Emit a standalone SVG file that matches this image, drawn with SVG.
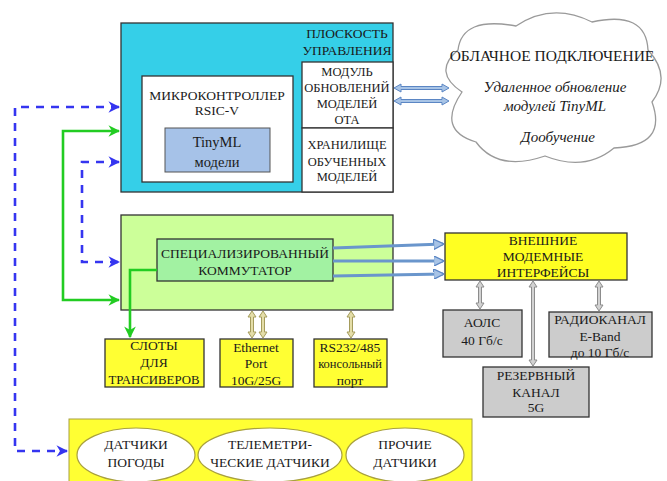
<svg xmlns="http://www.w3.org/2000/svg" width="667" height="481" viewBox="0 0 667 481" font-family="Liberation Serif, Times New Roman, DejaVu Serif, serif">
<defs>
<style>
text{font-family:'Liberation Serif','Times New Roman','DejaVu Serif',serif;font-size:13.5px;fill:#1a1a1a;text-anchor:middle}
.it{font-style:italic;font-size:15px}
.box{stroke:#333;stroke-width:1.3}
.dash{fill:none;stroke:#3535F0;stroke-width:2.6;stroke-dasharray:8 7}
.grn{fill:none;stroke:#22CC22;stroke-width:2.6}
.blu{fill:none;stroke:#6A96CC;stroke-width:3}
.gr{fill:#D2D2D2;stroke:#8C8C8C;stroke-width:1}
.kh{fill:#E4DDA8;stroke:#A59C5C;stroke-width:1}
.lb{fill:#A8C4E6;stroke:#5B86C4;stroke-width:1}
.sm{font-size:12.5px}
</style>
<marker id="ab" viewBox="0 0 10 10" refX="9" refY="5" markerWidth="4.5" markerHeight="4.5" orient="auto-start-reverse" markerUnits="strokeWidth"><path d="M0 0 L10 5 L0 10 L3 5 Z" fill="#3535F0"/></marker>
<marker id="ag" viewBox="0 0 10 10" refX="9" refY="5" markerWidth="4.5" markerHeight="4.5" orient="auto-start-reverse" markerUnits="strokeWidth"><path d="M0 0 L10 5 L0 10 L3 5 Z" fill="#22CC22"/></marker>
<marker id="al" viewBox="0 0 10 10" refX="9" refY="5" markerWidth="3.5" markerHeight="3.5" orient="auto" markerUnits="strokeWidth"><path d="M0 0 L10 5 L0 10 Z" fill="#A8C4E6" stroke="#5B86C4" stroke-width="1.2"/></marker>
</defs>

<g id="control-plane">
<rect class="box" x="121" y="23" width="272" height="169" fill="#35CFE8"/>
<text x="347" y="38">ПЛОСКОСТЬ</text>
<text x="347" y="55">УПРАВЛЕНИЯ</text>
</g>
<g id="mcu">
<rect class="box" x="142" y="76" width="151" height="106" fill="#FFFFFF"/>
<text x="217" y="100">МИКРОКОНТРОЛЛЕР</text>
<text x="217" y="115">RSIC-V</text>
</g>
<g id="tinyml">
<rect x="165" y="128" width="105" height="44" fill="#A6C2E8" stroke="#555" stroke-width="1"/>
<text x="217" y="147" style="font-size:14.5px">TinyML</text>
<text x="217" y="167" style="font-size:14.5px">модели</text>
</g>
<g id="ota">
<rect class="box" x="302" y="62" width="91" height="66" fill="#FFFFFF"/>
<text class="sm" x="347" y="76">МОДУЛЬ</text>
<text class="sm" x="347" y="92">ОБНОВЛЕНИЙ</text>
<text class="sm" x="347" y="108">МОДЕЛЕЙ</text>
<text class="sm" x="347" y="124">ОТА</text>
</g>
<g id="storage">
<rect class="box" x="302" y="128" width="91" height="64" fill="#FFFFFF"/>
<text class="sm" x="347" y="149">ХРАНИЛИЩЕ</text>
<text class="sm" x="347" y="166">ОБУЧЕННЫХ</text>
<text class="sm" x="347" y="181">МОДЕЛЕЙ</text>
</g>

<g id="cloud">
<path d="M462 92 Q432 72 458 50 Q462 16 516 26 Q552 2 592 22 Q646 10 648 50 Q672 76 652 102 Q668 146 614 148 Q585 172 545 156 Q498 172 476 142 Q436 130 462 92 Z" fill="#FFFFFF" stroke="#9A9A9A" stroke-width="1.3"/>
<text x="552" y="61" style="font-size:15.5px">ОБЛАЧНОЕ ПОДКЛЮЧЕНИЕ</text>
<text class="it" x="555" y="92">Удаленное обновление</text>
<text class="it" x="555" y="111">модулей TinyML</text>
<text class="it" x="558" y="142">Дообучение</text>
</g>

<g id="data-plane">
<rect class="box" x="121" y="215" width="272" height="95" fill="#CCFF99"/>
</g>
<g id="switch">
<rect class="box" x="157" y="239" width="176" height="42" fill="#A2F2A2"/>
<text x="245" y="258">СПЕЦИАЛИЗИРОВАННЫЙ</text>
<text x="245" y="275">КОММУТАТОР</text>
</g>
<g id="slots">
<rect class="box" x="105" y="339" width="99" height="48" fill="#FFFF33"/>
<text x="154" y="350">СЛОТЫ</text>
<text x="154" y="367">ДЛЯ</text>
<text x="154" y="384" style="font-size:12.8px">ТРАНСИВЕРОВ</text>
</g>
<g id="ethernet">
<rect class="box" x="220" y="339" width="73" height="48" fill="#FFFF33"/>
<text x="256" y="352">Ethernet</text>
<text x="256" y="368">Port</text>
<text x="256" y="385">10G/25G</text>
</g>
<g id="rs232">
<rect class="box" x="314" y="339" width="73" height="48" fill="#FFFF33"/>
<text x="350" y="352">RS232/485</text>
<text x="350" y="368" style="font-size:12.5px">консольный</text>
<text x="350" y="385">порт</text>
</g>

<g id="modem">
<rect class="box" x="445" y="233" width="182" height="47" fill="#FFFF22"/>
<text x="543" y="245">ВНЕШНИЕ</text>
<text x="543" y="261">МОДЕМНЫЕ</text>
<text x="543" y="277">ИНТЕРФЕЙСЫ</text>
</g>
<g id="fso">
<rect class="box" x="443" y="310" width="79" height="47" fill="#CCCCCC"/>
<text x="482" y="327">АОЛС</text>
<text x="482" y="345">40 Гб/с</text>
</g>
<g id="radio">
<rect class="box" x="549" y="312" width="103" height="45" fill="#CCCCCC"/>
<text x="600" y="324">РАДИОКАНАЛ</text>
<text x="600" y="341">E-Band</text>
<text x="600" y="357">до 10 Гб/с</text>
</g>
<g id="backup">
<rect class="box" x="483" y="367" width="106" height="50" fill="#CCCCCC"/>
<text x="536" y="380">РЕЗЕРВНЫЙ</text>
<text x="536" y="397">КАНАЛ</text>
<text x="536" y="412">5G</text>
</g>

<g id="sensors">
<rect x="69" y="419" width="403" height="70" fill="#FFFF33" stroke="#A8A040" stroke-width="1"/>
<ellipse cx="136" cy="455" rx="59" ry="27" fill="#FFFFFF" stroke="#A8A040" stroke-width="1.2"/>
<ellipse cx="270" cy="455" rx="72" ry="27" fill="#FFFFFF" stroke="#A8A040" stroke-width="1.2"/>
<ellipse cx="405" cy="455" rx="59" ry="27" fill="#FFFFFF" stroke="#A8A040" stroke-width="1.2"/>
<text x="136" y="449">ДАТЧИКИ</text>
<text x="136" y="467">ПОГОДЫ</text>
<text x="270" y="449">ТЕЛЕМЕТРИ-</text>
<text x="270" y="467">ЧЕСКИЕ ДАТЧИКИ</text>
<text x="405" y="449">ПРОЧИЕ</text>
<text x="405" y="467">ДАТЧИКИ</text>
</g>

<g id="connectors">
<path class="dash" d="M119 107 H15 V451 H67" marker-start="url(#ab)" marker-end="url(#ab)"/>
<path class="dash" d="M119 162 H82 V262 H119" marker-start="url(#ab)" marker-end="url(#ab)"/>
<path class="grn" d="M119 131 H63 V300 H119" marker-start="url(#ag)" marker-end="url(#ag)"/>
<path class="grn" d="M157 270 H130 V337" marker-end="url(#ag)"/>
<line class="blu" x1="333" y1="248" x2="443" y2="244" marker-end="url(#al)"/>
<line class="blu" x1="333" y1="261" x2="443" y2="261" marker-end="url(#al)"/>
<line class="blu" x1="333" y1="276" x2="443" y2="274" marker-end="url(#al)"/>
<path class="lb" d="M394 88 L401 84 L401 86.5 L442 86.5 L442 84 L449 88 L442 92 L442 89.5 L401 89.5 L401 92 Z"/>
<path class="lb" d="M394 101 L401 97 L401 99.5 L442 99.5 L442 97 L449 101 L442 105 L442 102.5 L401 102.5 L401 105 Z"/>
<path class="kh" d="M252 311 L256 317 L253.5 317 L253.5 332 L256 332 L252 338 L248 332 L250.5 332 L250.5 317 L248 317 Z"/>
<path class="kh" d="M263 311 L267 317 L264.5 317 L264.5 332 L267 332 L263 338 L259 332 L261.5 332 L261.5 317 L259 317 Z"/>
<path class="kh" d="M351 311 L355 317 L352.5 317 L352.5 332 L355 332 L351 338 L347 332 L349.5 332 L349.5 317 L347 317 Z"/>
<path class="gr" d="M480 281 L484 287 L481.5 287 L481.5 303 L484 303 L480 309 L476 303 L478.5 303 L478.5 287 L476 287 Z"/>
<path class="gr" d="M533 281 L537 287 L534.5 287 L534.5 360 L537 360 L533 366 L529 360 L531.5 360 L531.5 287 L529 287 Z"/>
<path class="gr" d="M599 281 L603 287 L600.5 287 L600.5 305 L603 305 L599 311 L595 305 L597.5 305 L597.5 287 L595 287 Z"/>
</g>
</svg>
